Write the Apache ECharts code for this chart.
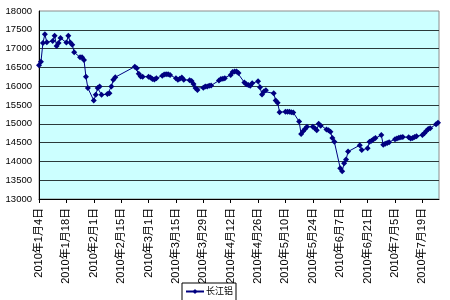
<!DOCTYPE html>
<html>
<head>
<meta charset="utf-8">
<script src="https://cdn.jsdelivr.net/npm/echarts@6/dist/echarts.min.js"></script>
<style>html,body{margin:0;padding:0;background:#fff}#c{width:450px;height:300px}</style>
</head>
<body>
<div id="c"></div>
<script>
var seriesName = '长江铝';
var dates = [
'2010-01-04','2010-01-05','2010-01-06','2010-01-07','2010-01-08',
'2010-01-11','2010-01-12','2010-01-13','2010-01-14','2010-01-15',
'2010-01-18','2010-01-19','2010-01-20','2010-01-21','2010-01-22',
'2010-01-25','2010-01-26','2010-01-27','2010-01-28','2010-01-29',
'2010-02-01','2010-02-02','2010-02-03','2010-02-04','2010-02-05',
'2010-02-08','2010-02-09','2010-02-10','2010-02-11','2010-02-12',
'2010-02-22','2010-02-23','2010-02-24','2010-02-25','2010-02-26',
'2010-03-01','2010-03-02','2010-03-03','2010-03-04','2010-03-05',
'2010-03-08','2010-03-09','2010-03-10','2010-03-11','2010-03-12',
'2010-03-15','2010-03-16','2010-03-17','2010-03-18','2010-03-19',
'2010-03-22','2010-03-23','2010-03-24','2010-03-25','2010-03-26',
'2010-03-29','2010-03-30','2010-03-31','2010-04-01','2010-04-02',
'2010-04-06','2010-04-07','2010-04-08','2010-04-09',
'2010-04-12','2010-04-13','2010-04-14','2010-04-15','2010-04-16',
'2010-04-19','2010-04-20','2010-04-21','2010-04-22','2010-04-23',
'2010-04-26','2010-04-27','2010-04-28','2010-04-29','2010-04-30',
'2010-05-04','2010-05-05','2010-05-06','2010-05-07',
'2010-05-10','2010-05-11','2010-05-12','2010-05-13','2010-05-14',
'2010-05-17','2010-05-18','2010-05-19','2010-05-20','2010-05-21',
'2010-05-24','2010-05-25','2010-05-26','2010-05-27','2010-05-28',
'2010-05-31','2010-06-01','2010-06-02','2010-06-03','2010-06-04',
'2010-06-07','2010-06-08','2010-06-09','2010-06-10','2010-06-11',
'2010-06-17','2010-06-18',
'2010-06-21','2010-06-22','2010-06-23','2010-06-24','2010-06-25',
'2010-06-28','2010-06-29','2010-06-30','2010-07-01','2010-07-02',
'2010-07-05','2010-07-06','2010-07-07','2010-07-08','2010-07-09',
'2010-07-12','2010-07-13','2010-07-14','2010-07-15','2010-07-16',
'2010-07-19','2010-07-20','2010-07-21','2010-07-22','2010-07-23',
'2010-07-26','2010-07-27'
];
var values = [
16560,16650,17150,17380,17170,
17200,17340,17070,17150,17280,
17160,17340,17160,17100,16900,
16770,16770,16700,16250,15950,
15620,15770,15950,15990,15770,
15790,15810,15990,16170,16240,
16520,16480,16330,16260,16250,
16250,16230,16190,16180,16210,
16280,16310,16320,16320,16300,
16210,16170,16200,16230,16170,
16160,16140,16060,15950,15900,
15960,15990,15990,16010,16020,
16150,16190,16200,16210,
16300,16380,16390,16390,16350,
16100,16050,16030,16010,16080,
16130,15970,15780,15860,15890,
15810,15620,15560,15310,
15320,15320,15320,15310,15300,
15060,14730,14800,14860,14920,
14920,14880,14830,15000,14950,
14850,14830,14790,14620,14520,
13820,13740,13950,14050,14260,
14430,14300,
14350,14520,14550,14590,14620,
14700,14440,14470,14490,14510,
14590,14610,14630,14640,14650,
14640,14610,14620,14650,14670,
14700,14750,14810,14860,14880,
14990,15030
];
var yMin = 13000, yMax = 18000, yStep = 500;
var startDate = '2010-01-04', endDate = '2010-07-27', labelStepDays = 14;

function dayIndex(s) {
  var p = s.split('-');
  var t = Date.UTC(+p[0], +p[1] - 1, +p[2]);
  var q = startDate.split('-');
  var t0 = Date.UTC(+q[0], +q[1] - 1, +q[2]);
  return Math.round((t - t0) / 86400000);
}
function fmtDay(v) {
  var q = startDate.split('-');
  var d = new Date(Date.UTC(+q[0], +q[1] - 1, +q[2]) + v * 86400000);
  return d.getUTCFullYear() + '年' + (d.getUTCMonth() + 1) + '月' + d.getUTCDate() + '日';
}
var seriesData = dates.map(function (d, i) { return [dayIndex(d), values[i]]; });

var chart = echarts.init(document.getElementById('c'), null, {renderer: 'canvas'});
var FONT = '"Liberation Sans", Arial, "Noto Sans CJK SC", sans-serif';
chart.setOption({
  animation: false,
  backgroundColor: '#ffffff',
  textStyle: {fontFamily: FONT},
  grid: {
    left: 39, right: 11, top: 11, bottom: 101,
    show: true, backgroundColor: '#CCFFFF', borderColor: '#8c8c8c', borderWidth: 1
  },
  xAxis: {
    type: 'value',
    min: 0,
    max: dayIndex(endDate) + 0.5,
    interval: labelStepDays,
    splitLine: {show: false},
    axisLine: {show: true, onZero: false, lineStyle: {color: '#000', width: 1}},
    axisTick: {show: true, length: 4, inside: false, lineStyle: {color: '#000'}},
    axisLabel: {
      rotate: 90, fontSize: 11, color: '#000', margin: 9, fontFamily: FONT,
      showMaxLabel: false,
      formatter: function (v) { return (v % labelStepDays === 0) ? fmtDay(v) : ''; }
    }
  },
  yAxis: {
    type: 'value',
    min: yMin, max: yMax, interval: yStep,
    axisLine: {show: true, lineStyle: {color: '#000', width: 1}},
    axisTick: {show: false},
    splitLine: {show: true, showMaxLine: false, lineStyle: {color: '#2a3a3a', width: 1}},
    axisLabel: {fontSize: 9.5, color: '#000', margin: 7, fontFamily: FONT,
      formatter: function (v) { return String(v); }}
  },
  legend: {
    show: true,
    left: 182, top: 283,
    orient: 'horizontal',
    backgroundColor: '#ffffff',
    borderColor: '#000', borderWidth: 1, borderRadius: 0,
    padding: [4, 3, 8, 3],
    itemWidth: 18, itemHeight: 6, itemGap: 4,
    textStyle: {fontSize: 9, color: '#000', fontFamily: FONT, padding: [0, 0, 0, -3]},
    data: [seriesName]
  },
  series: [{
    name: seriesName,
    type: 'line',
    data: seriesData,
    symbol: 'diamond',
    symbolSize: 6,
    showAllSymbol: true,
    lineStyle: {color: '#000080', width: 1},
    itemStyle: {color: '#000080'},
    z: 5
  }]
});
</script>
</body>
</html>
